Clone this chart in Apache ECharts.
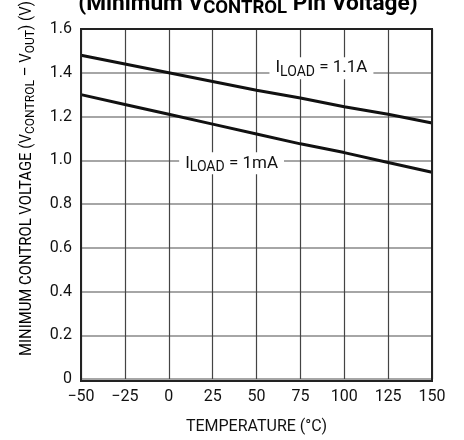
<!DOCTYPE html>
<html><head><meta charset="utf-8">
<script src="https://cdn.jsdelivr.net/npm/echarts@6/dist/echarts.min.js"></script>
<style>html,body{margin:0;padding:0;background:#fff}#c{width:464px;height:440px}</style>
</head><body><div id="c"></div>
<script>
const temps = [-50, -25, 0, 25, 50, 75, 100, 125, 150];
const load11A = [1.48, 1.44, 1.40, 1.36, 1.32, 1.285, 1.245, 1.21, 1.17];
const load1mA = [1.30, 1.255, 1.21, 1.165, 1.12, 1.075, 1.035, 0.99, 0.945];
const xTicks = [-50, -25, 0, 25, 50, 75, 100, 125, 150];
const yTicks = [0, 0.2, 0.4, 0.6, 0.8, 1.0, 1.2, 1.4, 1.6];
const FONT = 'Roboto, "Liberation Sans", sans-serif';

const chart = echarts.init(document.getElementById('c'));
const toPts = arr => temps.map((t, i) => [t, arr[i]]);
const labelRich = {
  m: {fontFamily: FONT, fontSize: 17, color: '#111', lineHeight: 22},
  s: {fontFamily: FONT, fontSize: 14, color: '#111', lineHeight: 14, verticalAlign: 'bottom'}
};
function mp(x, y, txt) {
  return {
    symbol: 'rect', symbolSize: 0, silent: true,
    data: [{coord: [x, y]}],
    label: {show: true, position: 'inside', formatter: txt, backgroundColor: '#fff',
      padding: [0, 6, 0, 6], rich: labelRich}
  };
}
chart.setOption({
  animation: false,
  grid: {left: 81, right: 32, top: 29, bottom: 59, show: false},
  xAxis: {
    type: 'value', min: -50, max: 150, interval: 25,
    name: 'TEMPERATURE (°C)', nameLocation: 'middle', nameGap: 40,
    nameTextStyle: {fontFamily: FONT, fontSize: 16, color: '#111'},
    axisLine: {show: false, onZero: false},
    axisTick: {show: false},
    axisLabel: {fontFamily: FONT, fontSize: 16, color: '#111', margin: 10,
      formatter: v => String(v).replace('-', '\u2212')},
    splitLine: {show: true, lineStyle: {color: '#444', width: 1.2}}
  },
  yAxis: {
    type: 'value', min: 0, max: 1.6, interval: 0.2,
    axisLine: {show: false, onZero: false},
    axisTick: {show: false},
    axisLabel: {fontFamily: FONT, fontSize: 16, color: '#111', margin: 9,
      formatter: v => v === 0 ? '0' : v.toFixed(1)},
    splitLine: {show: true, lineStyle: {color: '#888', width: 1.5}}
  },
  graphic: [
    {type: 'rect', shape: {x: 81, y: 29, width: 351, height: 352}, z: 10, silent: true,
      style: {fill: 'none', stroke: '#222', lineWidth: 2}},
    {type: 'text', x: 248, y: 4, z: 20, silent: true, scaleX: 1.03,
      style: {text: '{b|(Minimum V}{bs|CONTROL}{b| Pin Voltage)}', align: 'center', verticalAlign: 'middle',
        rich: {b: {fontFamily: FONT, fontSize: 22, fontWeight: 'bold', color: '#111', lineHeight: 26},
               bs: {fontFamily: FONT, fontSize: 18, fontWeight: 'bold', color: '#111', lineHeight: 18, verticalAlign: 'bottom'}}}},
    {type: 'text', x: 27, y: 178.5, rotation: Math.PI / 2, scaleX: 0.93, z: 20, silent: true,
      style: {text: '{m|MINIMUM CONTROL VOLTAGE (V}{s|CONTROL}{m| \u2013 V}{s|OUT}{m|) (V)}', align: 'center', verticalAlign: 'middle',
        rich: {m: {fontFamily: FONT, fontSize: 16, color: '#111', lineHeight: 20},
               s: {fontFamily: FONT, fontSize: 13, color: '#111', lineHeight: 13, verticalAlign: 'bottom'}}}}
  ],
  series: [
    {type: 'line', data: toPts(load11A), showSymbol: false, lineStyle: {color: '#111', width: 3}, z: 5,
      markPoint: mp(87, 1.421, '{m|I}{s|LOAD}{m| = 1.1A}')},
    {type: 'line', data: toPts(load1mA), showSymbol: false, lineStyle: {color: '#111', width: 3}, z: 5,
      markPoint: mp(35.8, 0.986, '{m|I}{s|LOAD}{m| = 1mA}')}
  ]
});
</script></body></html>
